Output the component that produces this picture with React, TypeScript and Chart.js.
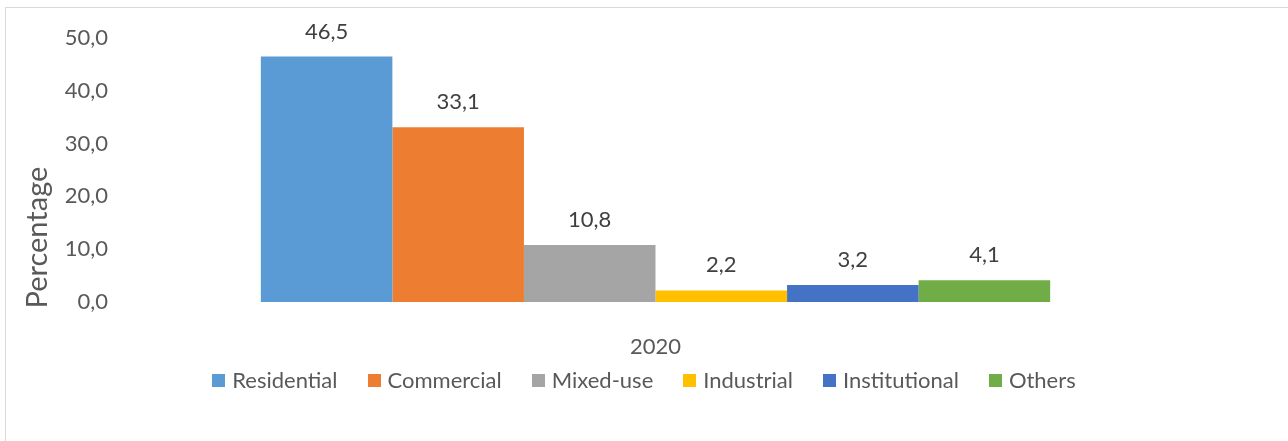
import { useEffect, useRef } from "react";
import { Chart, registerables } from "chart.js";

Chart.register(...registerables);

const categories = ["2020"];
const seriesNames = ["Residential", "Commercial", "Mixed-use", "Industrial", "Institutional", "Others"];
const seriesValues = [46.5, 33.1, 10.8, 2.2, 3.2, 4.1];
const seriesColors = ["#5B9BD5", "#ED7D31", "#A5A5A5", "#FFC000", "#4472C4", "#70AD47"];
const yTickValues = [0, 10, 20, 30, 40, 50];
const yTitle = "Percentage";

const FONT = "Lato";
const fmt = (v: number) => v.toFixed(1).replace(".", ",");

const labelPlugin = {
  id: "valueLabels",
  afterDatasetsDraw(chart: any) {
    const ctx = chart.ctx;
    ctx.save();
    ctx.font = `22px ${FONT}`;
    ctx.fillStyle = "#404040";
    ctx.textAlign = "center";
    ctx.textBaseline = "middle";
    chart.data.datasets.forEach((ds: any, i: number) => {
      const meta = chart.getDatasetMeta(i);
      meta.data.forEach((bar: any, j: number) => {
        ctx.fillText(fmt(ds.data[j]), bar.x, bar.y - 25);
      });
    });
    const ys = chart.scales.y;
    ctx.translate(chart.chartArea.left - 82, ys.getPixelForValue(12.2));
    ctx.rotate(-Math.PI / 2);
    ctx.font = `29px ${FONT}`;
    ctx.fillStyle = "#595959";
    ctx.fillText(yTitle, 0, 0);
    ctx.restore();
  },
};

export default function App() {
  const ref = useRef<HTMLCanvasElement | null>(null);
  useEffect(() => {
    if (!ref.current) return;
    const chart = new Chart(ref.current, {
      type: "bar",
      data: {
        labels: categories,
        datasets: seriesNames.map((name, i) => ({
          label: name,
          data: [seriesValues[i]],
          backgroundColor: seriesColors[i],
          borderWidth: 0,
        })),
      },
      options: {
        responsive: false,
        animation: false,
        devicePixelRatio: 1,
        layout: { padding: { top: 38, right: 97, left: 0, bottom: 0 } },
        datasets: { bar: { barPercentage: 1, categoryPercentage: 0.737 } },
        scales: {
          x: {
            afterFit: (s: any) => {
              s.height = 139;
            },
            grid: { display: false, drawTicks: false },
            border: { display: false },
            ticks: { font: { family: FONT, size: 22 }, color: "#595959", padding: 32 },
          },
          y: {
            min: 0,
            max: 50,
            afterBuildTicks: (s: any) => {
              s.ticks = yTickValues.map((v) => ({ value: v }));
            },
            afterFit: (s: any) => {
              s.width = 120;
            },
            grid: { display: false, drawTicks: false },
            border: { display: false },
            ticks: {
              font: { family: FONT, size: 22 },
              color: "#595959",
              padding: 12,
              callback: (v: any) => fmt(Number(v)),
            },
          },
        },
        plugins: {
          legend: { display: false },
          tooltip: { enabled: false },
        },
      },
      plugins: [labelPlugin],
    });
    return () => chart.destroy();
  }, []);

  return (
    <div style={{ position: "fixed", left: 0, top: 0, width: 1288, height: 441, overflow: "hidden", background: "#fff" }}>
      <div
        style={{
          position: "absolute",
          left: 5,
          top: 7,
          width: 1300,
          height: 450,
          border: "1px solid #d9d9d9",
          boxSizing: "border-box",
        }}
      />
      <canvas ref={ref} width={1288} height={441} style={{ position: "absolute", left: 0, top: 0, width: 1288, height: 441 }} />
      <div
        style={{
          position: "absolute",
          left: 0,
          width: 1288,
          top: 367,
          height: 26,
          display: "flex",
          justifyContent: "center",
          alignItems: "center",
          gap: 30,
          fontFamily: FONT,
          fontSize: 22,
          color: "#595959",
          lineHeight: "26px",
        }}
      >
        {seriesNames.map((name, i) => (
          <div key={name} style={{ display: "flex", alignItems: "center" }}>
            <span style={{ display: "inline-block", width: 13, height: 13, background: seriesColors[i], marginRight: 7 }} />
            <span>{name}</span>
          </div>
        ))}
      </div>
    </div>
  );
}
